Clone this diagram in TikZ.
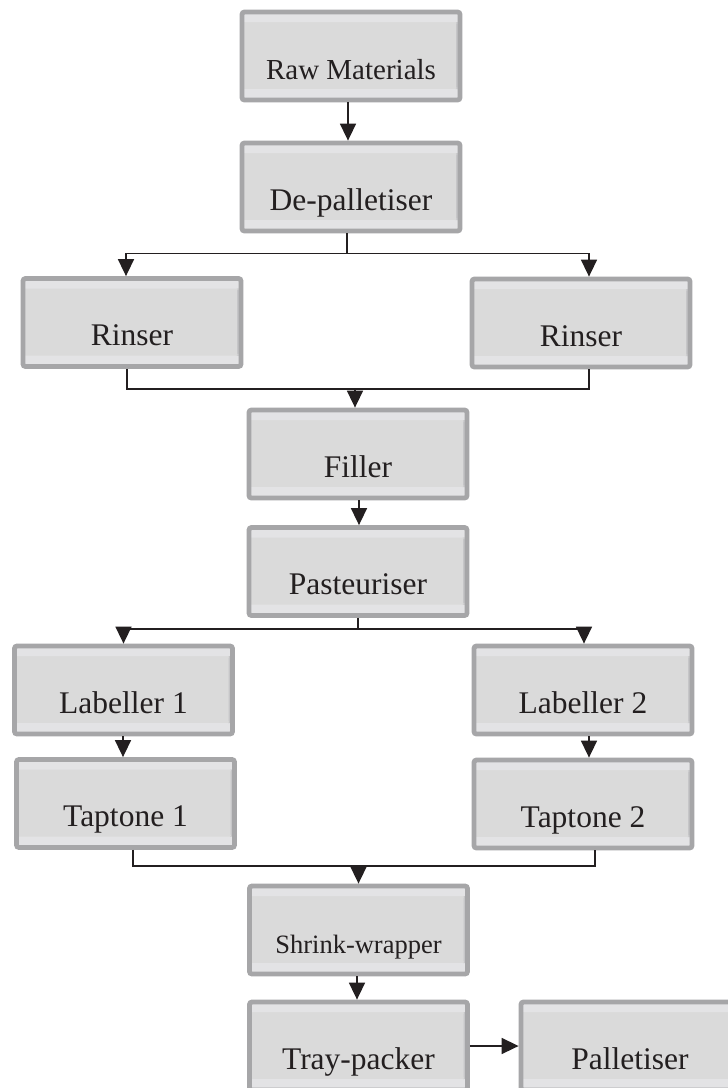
\documentclass[tikz,border=0pt]{standalone}
\usepackage{fontspec}
\setmainfont{Liberation Serif}
\usetikzlibrary{arrows.meta}
\definecolor{boxedge}{HTML}{A6A6A8}
\definecolor{boxfill}{HTML}{DADADA}
\definecolor{boxband}{HTML}{E3E3E5}
\definecolor{boxside}{HTML}{C6C6C8}
\definecolor{ink}{HTML}{231F20}
\tikzset{
  procbox/.style={
    draw=boxedge, fill=boxfill, line width=4.8pt, rounded corners=2.5pt,
    minimum width=218pt, minimum height=88pt, inner sep=0pt,
    text height=46pt, text depth=0pt, text=ink,
    font=\fontsize{31.5}{34}\selectfont,
    path picture={
      \fill[boxband] ([yshift=-2pt]path picture bounding box.north west)
        rectangle ([yshift=-10pt]path picture bounding box.north east);
      \fill[boxband] ([yshift=2pt]path picture bounding box.south west)
        rectangle ([yshift=11pt]path picture bounding box.south east);
      \fill[boxside] ([xshift=-2pt,yshift=-10pt]path picture bounding box.north east)
        rectangle ([xshift=-4pt,yshift=11pt]path picture bounding box.south east);
    }
  },
  flow/.style={draw=ink, line width=1.6pt},
  arr/.style={flow, -{Triangle[width=16pt,length=17pt]}}
}
\begin{document}
\begin{tikzpicture}[x=1pt,y=-1pt]
  \clip (0,0) rectangle (728,1088);
  \fill[white] (0,0) rectangle (728,1088);

  % process boxes
  \node[procbox, font=\fontsize{29}{32}\selectfont] (raw) at (351,56) {Raw Materials};
  \node[procbox] (dep)  at (351,187)   {De-palletiser};
  \node[procbox] (rinL) at (132,322.5) {Rinser};
  \node[procbox] (rinR) at (581,323)   {Rinser};
  \node[procbox] (fil)  at (358,454)   {Filler};
  \node[procbox] (pas)  at (358,571.5) {Pasteuriser};
  \node[procbox] (labA) at (123.5,690) {Labeller 1};
  \node[procbox] (labB) at (583,690)   {Labeller 2};
  \node[procbox] (tapA) at (125.5,803.5) {Taptone 1};
  \node[procbox] (tapB) at (583,804)   {Taptone 2};
  \node[procbox, font=\fontsize{26.5}{30}\selectfont] (shr) at (358.5,930) {Shrink-wrapper};
  \node[procbox] (tray) at (358.5,1046) {Tray-packer};
  \node[procbox] (pal)  at (630,1046)  {Palletiser};

  % raw materials to de-palletiser
  \draw[arr] ([xshift=-3pt]raw.south) -- ([xshift=-3pt]dep.north);

  % split to the two rinsers
  \draw[flow] ([xshift=-4pt]dep.south) -- ++(0,20) coordinate (s1);
  \draw[arr] (s1) -| ([xshift=-6pt]rinL.north);
  \draw[arr] (s1) -| ([xshift=8pt]rinR.north);

  % rinsers merge into the filler
  \draw[flow] ([xshift=-5pt]rinL.south) -- ++(0,20) coordinate (m1)
    -| ([xshift=8pt]rinR.south);
  \coordinate (fa) at ([xshift=-3pt]fil.north);
  \draw[arr] (fa |- m1) -- (fa);

  % filler to pasteuriser
  \draw[arr] ([xshift=1pt]fil.south) -- ([xshift=1pt]pas.north);

  % split to the two labellers
  \draw[flow] (pas.south) -- ++(0,11) coordinate (s2);
  \draw[arr] (s2) -| (labA.north);
  \draw[arr] (s2) -| ([xshift=1pt]labB.north);

  % labellers to taptones
  \coordinate (la) at ([xshift=-0.5pt]labA.south);
  \draw[arr] (la) -- (la |- tapA.north);
  \coordinate (lb) at ([xshift=6pt]labB.south);
  \draw[arr] (lb) -- (lb |- tapB.north);

  % taptones merge into the shrink-wrapper
  \draw[flow] ([xshift=7.5pt]tapA.south) -- ++(0,16) coordinate (m2)
    -| ([xshift=12pt]tapB.south);
  \coordinate (sa) at (shr.north);
  \draw[arr] (sa |- m2) -- (sa);

  % shrink-wrapper to tray-packer to palletiser
  \draw[arr] ([xshift=-1.5pt]shr.south) -- ([xshift=-1.5pt]tray.north);
  \draw[arr] (tray.east) -- (pal.west);
\end{tikzpicture}
\end{document}
